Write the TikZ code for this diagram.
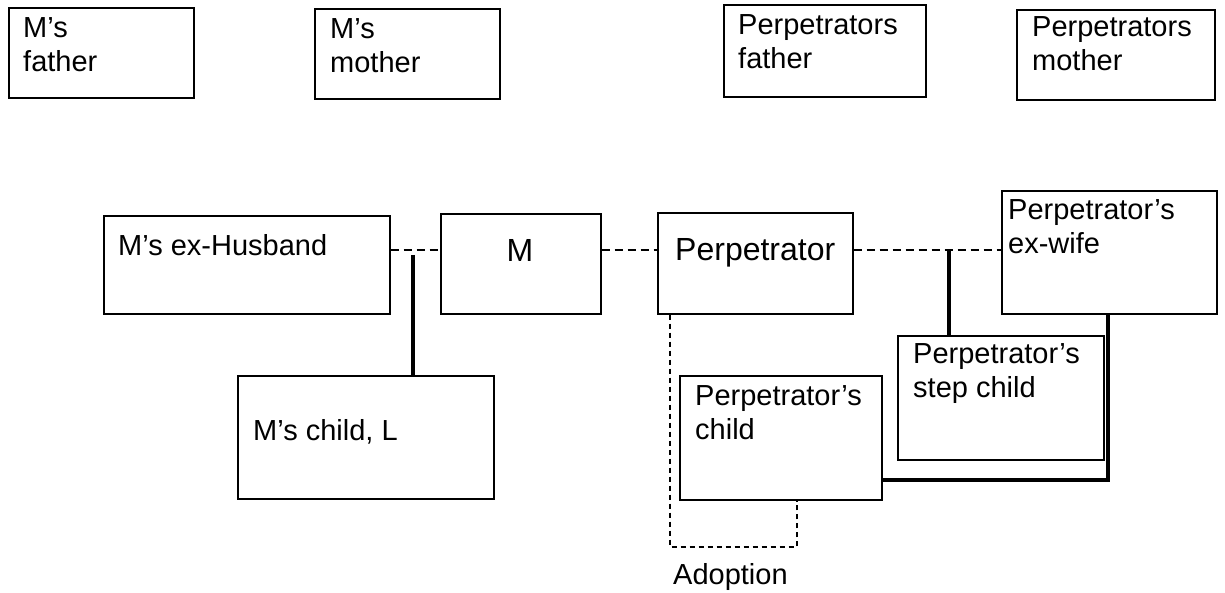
\documentclass[tikz,border=0pt]{standalone}
\usepackage{fontspec}
\setmainfont{Liberation Sans}

\begin{document}
\begin{tikzpicture}[x=1pt, y=-1pt,
	caja/.style={draw, line width=1.6pt, inner sep=0pt, anchor=north west},
	texto/.style={inner sep=0pt, anchor=base west, align=left, font=\fontsize{29}{34}\selectfont},
	grande/.style={inner sep=0pt, anchor=base, font=\fontsize{32}{36}\selectfont},
	pareja/.style={dash pattern=on 8pt off 5pt, line width=1.3pt},
	hijo/.style={line width=3.2pt},
	adopcion/.style={dash pattern=on 5pt off 4pt, line width=1.1pt}]
	\useasboundingbox (0,0) rectangle (1225,593);
				% Abuelos
					\node[caja, minimum width=185, minimum height=90] (mfather) at (8,7) {};
					\node[texto] (mfathertxt) at (23,72) {M’s\\father};
					\node[caja, minimum width=185, minimum height=90] (mmother) at (314,8) {};
					\node[texto] (mmothertxt) at (330,73) {M’s\\mother};
					\node[caja, minimum width=202, minimum height=92] (pfather) at (723,4) {};
					\node[texto] (pfathertxt) at (738,69) {Perpetrators\\father};
					\node[caja, minimum width=198, minimum height=90] (pmother) at (1016,9) {};
					\node[texto] (pmothertxt) at (1032,71) {Perpetrators\\mother};
				
				% Parejas
					\node[caja, minimum width=286, minimum height=98] (exhusband) at (103,215) {};
					\node[texto] (exhusbandtxt) at (118,256) {M’s ex-Husband};
					\node[caja, minimum width=160, minimum height=100] (m) at (440,213) {};
					\node[grande] (mtxt) at (520,262) {M};
					\node[caja, minimum width=195, minimum height=101] (perp) at (657,212) {};
					\node[grande, anchor=base west] (perptxt) at (675,261) {Perpetrator};
					\node[caja, minimum width=215, minimum height=123] (exwife) at (1001,190) {};
					\node[texto] (exwifetxt) at (1008,254) {Perpetrator’s\\ex-wife};
					
					\coordinate (lineaM) at (0,250);
					\draw[pareja] (exhusband.east |- lineaM) -- (m.west |- lineaM);
					\draw[pareja] (m.east |- lineaM) -- (perp.west |- lineaM);
					\draw[pareja] (perp.east |- lineaM) -- (exwife.west |- lineaM);
				
				% Hijos
					\node[caja, minimum width=256, minimum height=123] (mchild) at (237,375) {};
					\node[texto] (mchildtxt) at (253,440) {M’s child, L};
					\node[caja, minimum width=206, minimum height=124] (stepchild) at (897,335) {};
					\node[texto] (stepchildtxt) at (913,397) {Perpetrator’s\\step child};
					\node[caja, minimum width=202, minimum height=124] (pchild) at (679,375) {};
					\node[texto] (pchildtxt) at (695,439) {Perpetrator’s\\child};
					
					\coordinate (hijoL) at (413,255);
					\draw[hijo] (hijoL) -- (hijoL |- mchild.north);
					\coordinate (hijoP) at (949,251);
					\draw[hijo] (hijoP) -- (hijoP |- stepchild.north);
					\coordinate (esquina) at (1108,480);
					\draw[hijo] (esquina |- exwife.south) -- (esquina) -- (esquina -| pchild.east);
				
				% Adopción
					\coordinate (adopA) at (670,547);
					\coordinate (adopB) at (797,547);
					\draw[adopcion] (adopA |- perp.south) -- (adopA) -- (adopB) -- (adopB |- pchild.south);
					\node[texto] (adoptiontxt) at (673,584) {Adoption};
\end{tikzpicture}
\end{document}
